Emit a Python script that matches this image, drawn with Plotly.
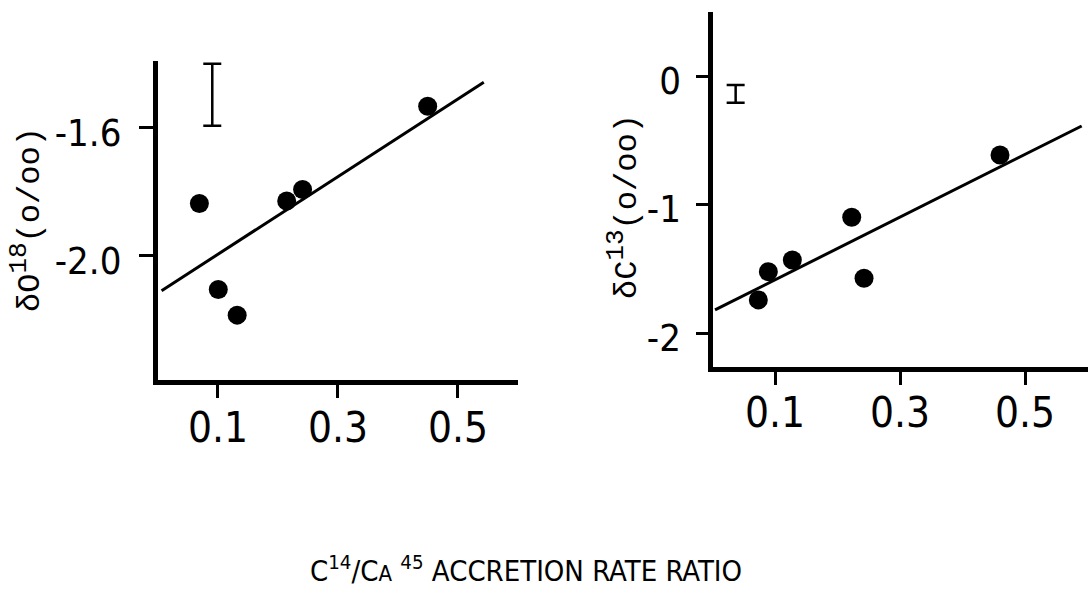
import plotly.graph_objects as go

# Oxygen isotope panel
o18_x = [0.069, 0.1005, 0.132, 0.2145, 0.241, 0.4495]
o18_y = [-1.838, -2.107, -2.1875, -1.830, -1.794, -1.533]
o18_fit_x = [0.006, 0.543]
o18_fit_y = [-2.111, -1.458]
o18_err_x = [0.0905]
o18_err_y = [-1.497]
o18_err_half = [0.097]
o18_tickvals = [-1.6, -2.0]
o18_ticktext = ["-1.6", "-2.0"]

# Carbon isotope panel
c13_x = [0.0733, 0.0893, 0.1277, 0.2227, 0.2424, 0.460]
c13_y = [-1.740, -1.520, -1.429, -1.096, -1.571, -0.610]
c13_fit_x = [0.004, 0.5907]
c13_fit_y = [-1.818, -0.384]
c13_err_x = [0.037]
c13_err_y = [-0.134]
c13_err_half = [0.069]
c13_tickvals = [0, -1, -2]
c13_ticktext = ["0", "-1", "-2"]

x_tickvals = [0.1, 0.3, 0.5]
x_ticktext = ["0.1", "0.3", "0.5"]

NARROW = "Liberation Sans Narrow, DejaVu Sans Condensed, Arial Narrow, Liberation Sans, sans-serif"
MONO = "Liberation Mono, DejaVu Sans Mono, monospace"

fig = go.Figure()


def add_panel(xs, ys, fx, fy, ex, ey, eh, xa, ya):
    fig.add_trace(go.Scatter(x=fx, y=fy, mode="lines",
                             line=dict(color="black", width=3),
                             xaxis=xa, yaxis=ya, cliponaxis=False))
    fig.add_trace(go.Scatter(x=xs, y=ys, mode="markers",
                             marker=dict(color="black", size=19),
                             xaxis=xa, yaxis=ya, cliponaxis=False))
    fig.add_trace(go.Scatter(x=ex, y=ey, mode="markers",
                             marker=dict(size=1, color="rgba(0,0,0,0)"),
                             error_y=dict(type="data", array=eh, visible=True,
                                          color="black", thickness=2.5, width=9),
                             xaxis=xa, yaxis=ya, cliponaxis=False))


add_panel(o18_x, o18_y, o18_fit_x, o18_fit_y, o18_err_x, o18_err_y, o18_err_half, "x", "y")
add_panel(c13_x, c13_y, c13_fit_x, c13_fit_y, c13_err_x, c13_err_y, c13_err_half, "x2", "y2")

axis_common = dict(showgrid=False, zeroline=False, showline=True, linecolor="black",
                   linewidth=5, ticks="outside", tickcolor="black", tickwidth=3)

fig.update_layout(
    width=1088, height=594,
    margin=dict(l=0, r=0, t=0, b=0),
    paper_bgcolor="white", plot_bgcolor="white",
    showlegend=False,
    xaxis=dict(domain=[0.1452, 0.4761], range=[0, 0.6], anchor="y",
               tickvals=x_tickvals, ticktext=x_ticktext, ticklen=13,
               ticklabelstandoff=-6,
               tickfont=dict(family=NARROW, size=42, color="black"), **axis_common),
    yaxis=dict(domain=[0.3603, 0.8975], range=[-2.3906, -1.391], anchor="x",
               tickvals=o18_tickvals, ticktext=o18_ticktext, ticklen=14,
               ticklabelstandoff=10, ticklabelshift=5,
               tickfont=dict(family=NARROW, size=38, color="black"), **axis_common),
    xaxis2=dict(domain=[0.6549, 1.0], range=[0, 0.6008], anchor="y2",
                tickvals=x_tickvals, ticktext=x_ticktext, ticklen=13,
                ticklabelstandoff=-8,
                tickfont=dict(family=NARROW, size=42, color="black"), **axis_common),
    yaxis2=dict(domain=[0.3822, 0.9803], range=[-2.263, 0.507], anchor="x2",
                tickvals=c13_tickvals, ticktext=c13_ticktext, ticklen=12,
                ticklabelstandoff=7, ticklabelshift=4,
                tickfont=dict(family=NARROW, size=38, color="black"), **axis_common),
)

fig.add_annotation(xref="paper", yref="paper", x=26 / 1088, y=1 - 220 / 594,
                   xanchor="center", yanchor="middle",
                   text="δO<sup><span style='font-size:26px'>18</span></sup>(o/oo)",
                   textangle=-90, showarrow=False,
                   font=dict(family=MONO, size=32, color="black"))
fig.add_annotation(xref="paper", yref="paper", x=623 / 1088, y=1 - 207 / 594,
                   xanchor="center", yanchor="middle",
                   text="δC<sup><span style='font-size:26px'>13</span></sup>(o/oo)",
                   textangle=-90, showarrow=False,
                   font=dict(family=MONO, size=32, color="black"))
fig.add_annotation(xref="paper", yref="paper", x=526 / 1088, y=1 - 569 / 594,
                   xanchor="center", yanchor="middle",
                   text="C<sup>14</sup>/C<span style='font-size:22px'>A</span> <sup>45</sup> ACCRETION RATE RATIO",
                   showarrow=False,
                   font=dict(family=NARROW, size=29, color="black"))

fig.write_html("out.html")
